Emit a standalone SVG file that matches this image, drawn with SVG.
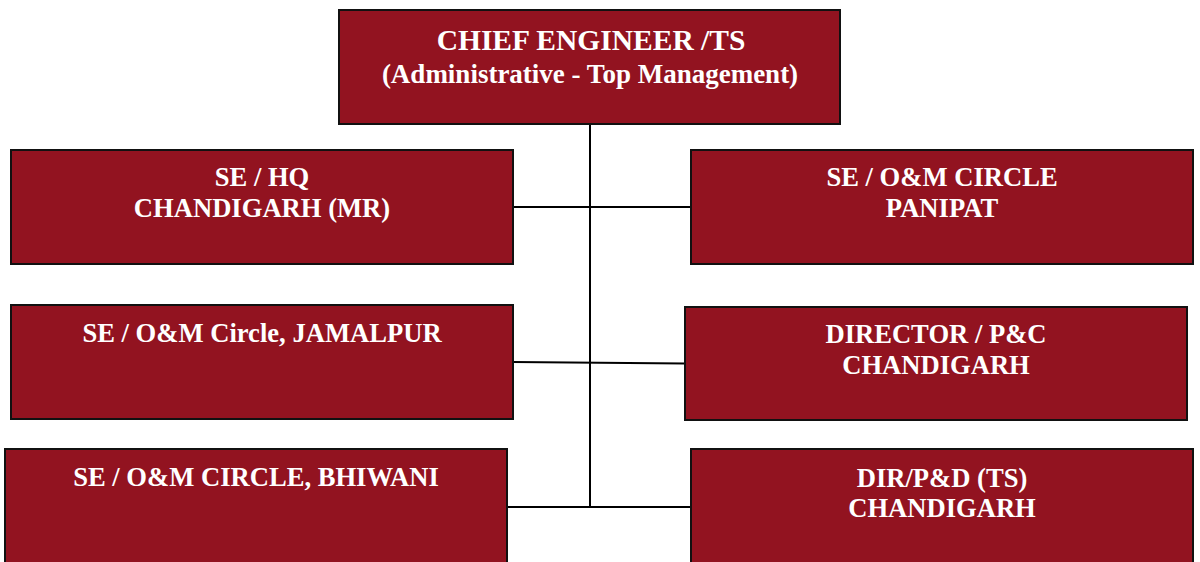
<svg xmlns="http://www.w3.org/2000/svg" width="1200" height="562" viewBox="0 0 1200 562">
<style>
.box{fill:#921320;stroke:#111;stroke-width:2}
.t{font-family:"Liberation Serif","Times New Roman",serif;font-weight:bold;font-size:26.6px;fill:#fff;text-anchor:middle}
.conn line{stroke:#000;stroke-width:2}
</style>
<rect width="1200" height="562" fill="#fff"/>
<g class="conn" id="connectors">
<line x1="590" y1="124" x2="590" y2="507"/>
<line x1="513" y1="207" x2="691" y2="207"/>
<line x1="513" y1="362" x2="685" y2="363.5"/>
<line x1="507" y1="507" x2="691" y2="507"/>
</g>
<g id="ce">
<rect class="box" x="339" y="10" width="501" height="114"/>
<text class="t" x="591" y="50" style="font-size:29.5px">CHIEF ENGINEER /TS</text>
<text class="t" x="590" y="83" style="font-size:27px">(Administrative - Top Management)</text>
</g>
<g id="sehq">
<rect class="box" x="11" y="150" width="502" height="114"/>
<text class="t" x="262" y="186">SE / HQ</text>
<text class="t" x="262" y="217">CHANDIGARH (MR)</text>
</g>
<g id="panipat">
<rect class="box" x="691" y="150" width="502" height="114"/>
<text class="t" x="942" y="186">SE / O&amp;M CIRCLE</text>
<text class="t" x="942" y="217">PANIPAT</text>
</g>
<g id="jamalpur">
<rect class="box" x="11" y="305" width="502" height="114"/>
<text class="t" x="262" y="342">SE / O&amp;M Circle, JAMALPUR</text>
</g>
<g id="pc">
<rect class="box" x="685" y="307" width="502" height="113"/>
<text class="t" x="936" y="343">DIRECTOR / P&amp;C</text>
<text class="t" x="936" y="374">CHANDIGARH</text>
</g>
<g id="bhiwani">
<rect class="box" x="5" y="449" width="502" height="120"/>
<text class="t" x="256" y="486">SE / O&amp;M CIRCLE, BHIWANI</text>
</g>
<g id="pd">
<rect class="box" x="691" y="449" width="502" height="120"/>
<text class="t" x="942" y="487">DIR/P&amp;D (TS)</text>
<text class="t" x="942" y="517">CHANDIGARH</text>
</g>
</svg>
